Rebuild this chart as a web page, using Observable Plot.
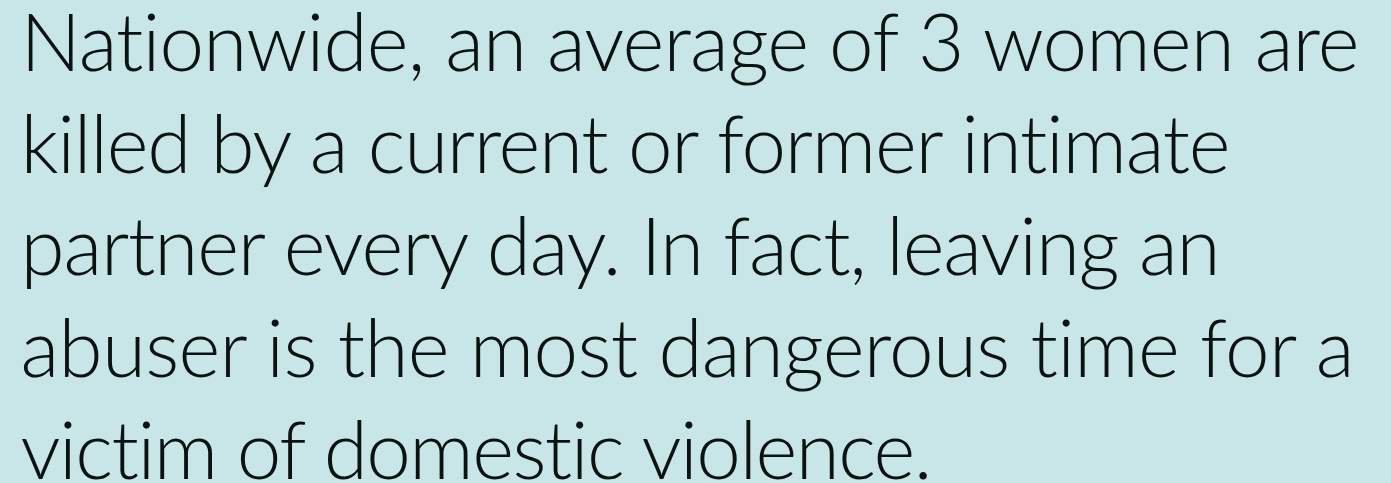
<!DOCTYPE html>
<html>
<head>
<meta charset="utf-8">
<script src="https://cdn.jsdelivr.net/npm/d3@7"></script>
<script src="https://cdn.jsdelivr.net/npm/@observablehq/plot@0.6"></script>
<style>
  html, body { margin: 0; padding: 0; background: #c8e6e7; }
  #chart svg { display: block; }
  #chart svg text { font-variant-ligatures: none; font-feature-settings: "liga" 0, "clig" 0; }
</style>
</head>
<body>
<div id="chart"></div>
<script>
const lines = [
  "Nationwide, an average of 3 women are",
  "killed by a current or former intimate",
  "partner every day. In fact, leaving an",
  "abuser is the most dangerous time for a",
  "victim of domestic violence."
];
const lineIndex = [0, 1, 2, 3, 4];
const lineEnds = [1357, 1228, 1218, 1352, 930];

const data = lineIndex.map(i => ({i, text: lines[i]}));
const startX = 20;

const chart = Plot.plot({
  width: 1391,
  height: 483,
  margin: 0,
  style: {background: "#c8e6e7", color: "#0a1212"},
  x: {domain: [0, 1391], range: [0, 1391], axis: null},
  y: {domain: [0, 4], range: [70, 478], axis: null},
  marks: [
    Plot.text(data, {
      x: () => startX,
      y: "i",
      text: "text",
      textAnchor: "start",
      lineAnchor: "bottom",
      fontSize: 80,
      fontWeight: 300,
      fontFamily: "Lato, 'Open Sans', sans-serif",
      fill: "#0a1212"
    })
  ]
});
// fit each line to the width seen in the reference
d3.select(chart).selectAll("text").each(function(d, k) {
  const i = lineIndex[k];
  if (i === undefined) return;
  this.setAttribute("textLength", lineEnds[i] - startX + 2);
  this.setAttribute("lengthAdjust", "spacing");
});
document.getElementById("chart").appendChild(chart);
</script>
</body>
</html>
